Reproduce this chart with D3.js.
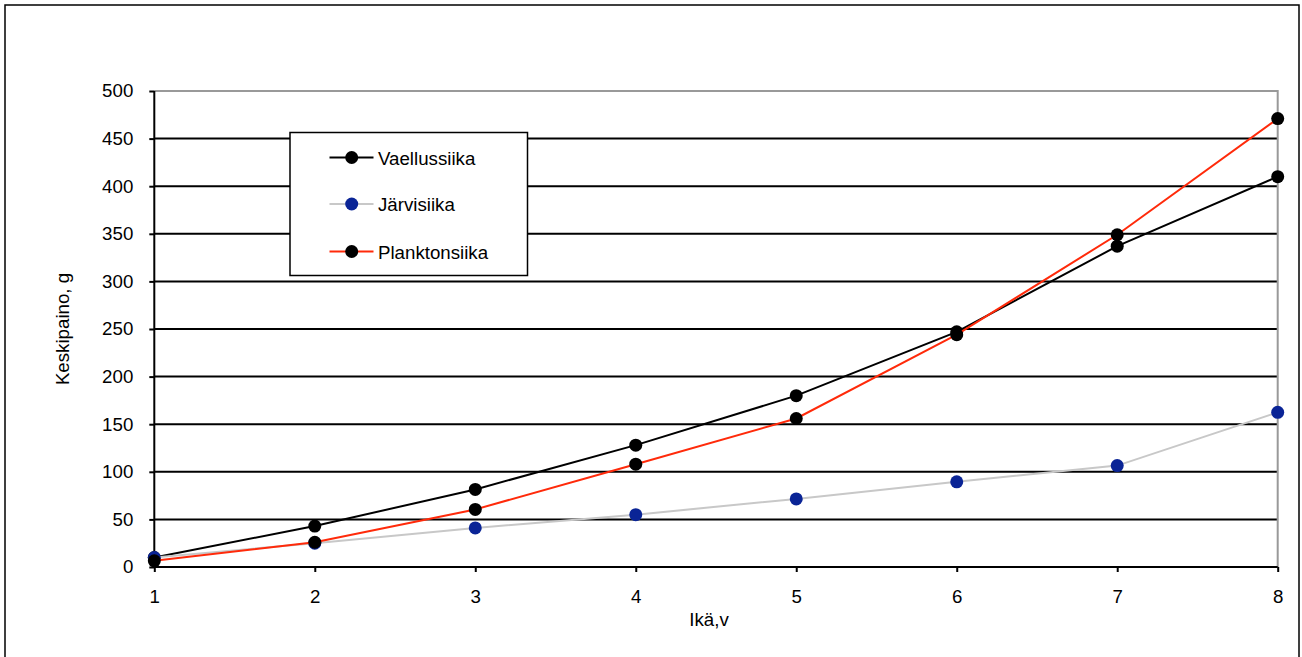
<!DOCTYPE html>
<html>
<head>
<meta charset="utf-8">
<script src="https://cdn.jsdelivr.net/npm/d3@7"></script>
<style>
  html, body { margin: 0; padding: 0; background: #fff; }
  svg { display: block; font-family: "Liberation Sans", Arial, sans-serif; }
</style>
</head>
<body>
<svg id="chart" width="1302" height="657"></svg>
<script>
const ages = [1, 2, 3, 4, 5, 6, 7, 8];
const vaellussiika = [10, 43, 81.5, 128, 180, 247, 337, 410];
const jarvisiika = [10, 25, 41, 55, 71.5, 89.5, 106.5, 162.5];
const planktonsiika = [6.5, 26, 60.5, 108, 156, 244, 349, 471];
const yTicks = [0, 50, 100, 150, 200, 250, 300, 350, 400, 450, 500];
const seriesNames = ["Vaellussiika", "Järvisiika", "Planktonsiika"];
const xLabel = "Ikä,v";
const yLabel = "Keskipaino, g";

const series = [
  { name: seriesNames[0], values: vaellussiika, line: "#000000", dot: "#000000" },
  { name: seriesNames[1], values: jarvisiika, line: "#c8c8c8", dot: "#0a2496" },
  { name: seriesNames[2], values: planktonsiika, line: "#ff2a0a", dot: "#000000" }
];

const svg = d3.select("#chart");
const fs = 18.7;

// outer frame
svg.append("rect").attr("x", 5).attr("y", 5).attr("width", 1294).attr("height", 670)
  .attr("fill", "none").attr("stroke", "#000").attr("stroke-width", 1.5);

const L = 154.3, R = 1277.7, T = 91, B = 567;
const x = d3.scaleLinear().domain([1, 8]).range([L, R]);
const y = d3.scaleLinear().domain([0, 500]).range([B, T]);

// gridlines
svg.append("g").selectAll("line").data(yTicks.filter(v => v > 0 && v < 500)).join("line")
  .attr("x1", L).attr("x2", R).attr("y1", d => y(d)).attr("y2", d => y(d))
  .attr("stroke", "#000").attr("stroke-width", 2);

// plot border top & right (gray)
svg.append("path")
  .attr("d", `M${L},${y(500)}H${R}V${B}`)
  .attr("fill", "none").attr("stroke", "#999").attr("stroke-width", 2);

// y axis
const yAxis = d3.axisLeft(y).tickValues(yTicks).tickSize(5).tickPadding(16);
const gy = svg.append("g").attr("transform", `translate(${L},0)`).call(yAxis);
gy.select(".domain").attr("stroke", "#000").attr("stroke-width", 2).attr("d", `M0,${B}V${T}`);
gy.selectAll(".tick line").attr("stroke", "#000").attr("stroke-width", 2);
gy.selectAll(".tick text").attr("font-size", fs).attr("fill", "#000")
  .attr("font-family", "Liberation Sans, Arial, sans-serif");

// x axis
const xAxis = d3.axisBottom(x).tickValues(ages).tickFormat(d3.format("d")).tickSize(5).tickPadding(18);
const gx = svg.append("g").attr("transform", `translate(0,${B})`).call(xAxis);
gx.select(".domain").attr("stroke", "#000").attr("stroke-width", 2).attr("d", `M${L},0H${R}`);
gx.selectAll(".tick line").attr("stroke", "#000").attr("stroke-width", 2);
gx.selectAll(".tick text").attr("font-size", fs).attr("fill", "#000")
  .attr("font-family", "Liberation Sans, Arial, sans-serif");

// axis titles
svg.append("text").attr("x", 709).attr("y", 626).attr("text-anchor", "middle")
  .attr("font-size", fs).text(xLabel);
svg.append("text").attr("transform", `translate(69,${(T + B) / 2}) rotate(-90)`)
  .attr("text-anchor", "middle").attr("font-size", fs).text(yLabel);

// series
const lineGen = d3.line().x((d, i) => x(ages[i])).y(d => y(d));
series.forEach(s => {
  svg.append("path").datum(s.values).attr("d", lineGen)
    .attr("fill", "none").attr("stroke", s.line).attr("stroke-width", 2);
  svg.append("g").selectAll("circle").data(s.values).join("circle")
    .attr("cx", (d, i) => x(ages[i])).attr("cy", d => y(d)).attr("r", 6.5)
    .attr("fill", s.dot);
});

// legend
const lg = svg.append("g");
lg.append("rect").attr("x", 290).attr("y", 132.5).attr("width", 237.5).attr("height", 143)
  .attr("fill", "#fff").attr("stroke", "#000").attr("stroke-width", 1.5);
const rowsY = [157.5, 204, 251.5];
series.forEach((s, i) => {
  const ry = rowsY[i];
  lg.append("line").attr("x1", 329.5).attr("x2", 373.5).attr("y1", ry).attr("y2", ry)
    .attr("stroke", s.line).attr("stroke-width", 2);
  lg.append("circle").attr("cx", 351.7).attr("cy", ry).attr("r", 6.5).attr("fill", s.dot);
  lg.append("text").attr("x", 378).attr("y", ry + 7).attr("font-size", fs).text(s.name);
});
</script>
</body>
</html>
